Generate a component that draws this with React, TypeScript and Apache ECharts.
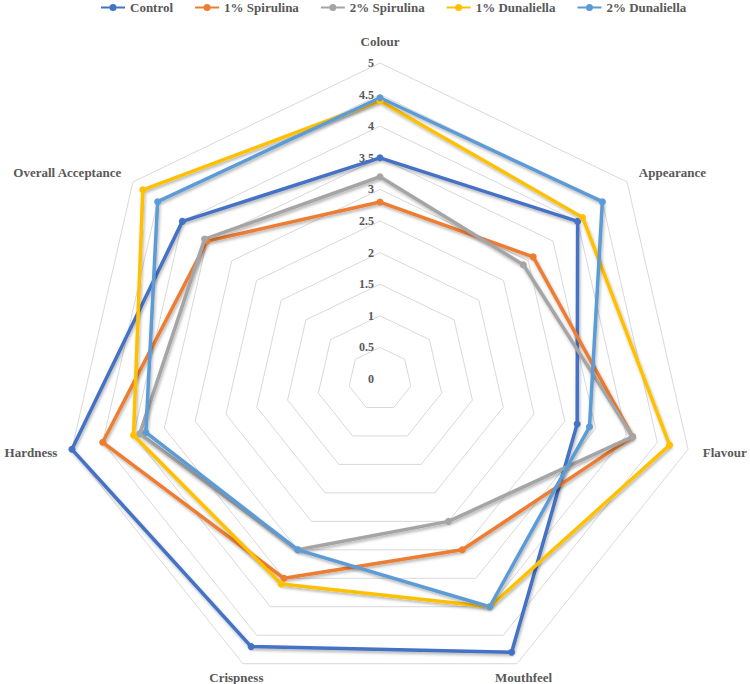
import React, { useEffect, useRef } from "react";
import * as echarts from "echarts";

const categories = ["Colour", "Appearance", "Flavour", "Mouthfeel", "Crispness", "Hardness", "Overall Acceptance"];
const seriesNames = ["Control", "1% Spirulina", "2% Spirulina", "1% Dunaliella", "2% Dunaliella"];
const control = [3.5, 4.0, 3.2, 4.8, 4.7, 5.0, 4.0];
const spirulina1 = [2.8, 3.1, 4.1, 3.0, 3.5, 4.5, 3.5];
const spirulina2 = [3.2, 2.9, 4.1, 2.5, 3.0, 3.9, 3.55];
const dunaliella1 = [4.4, 4.1, 4.7, 4.0, 3.6, 4.0, 4.8];
const dunaliella2 = [4.45, 4.5, 3.4, 4.0, 3.0, 3.8, 4.5];
const tickLabels = ["0", "0.5", "1", "1.5", "2", "2.5", "3", "3.5", "4", "4.5", "5"];
const colors = ["#4472C4", "#ED7D31", "#A5A5A5", "#FFC000", "#5B9BD5"];

const allValues = [control, spirulina1, spirulina2, dunaliella1, dunaliella2];

const CX = 380;
const CY = 379;
const R = 316;
const FONT = "Liberation Serif";
const TEXT_COLOR = "#595959";

// ECharts places indicators counter-clockwise; the reference goes clockwise.
const n = categories.length;
const order = [0, ...Array.from({ length: n - 1 }, (_, i) => n - 1 - i)];

const legendIcon = "path://M0,4H24V6H0Z M8.5,5A3.5,3.5 0 1,1 15.5,5A3.5,3.5 0 1,1 8.5,5Z";

function nameGraphics() {
  return categories.map((name, k) => {
    const th = (k * 2 * Math.PI) / n;
    const s = Math.sin(th);
    const c = Math.cos(th);
    const d = R + 15;
    const x = CX + d * s;
    const y = CY - d * c;
    let align = "center";
    let vAlign = "middle";
    if (c > 0.9) vAlign = "bottom";
    else if (c < -0.8) align = "center";
    else align = s > 0 ? "left" : "right";
    return {
      type: "text",
      x,
      y,
      style: {
        text: name,
        fill: TEXT_COLOR,
        font: `bold 13px "${FONT}", serif`,
        align,
        verticalAlign: vAlign,
      },
    };
  });
}

export default function App() {
  const ref = useRef<HTMLDivElement>(null);
  useEffect(() => {
    if (!ref.current) return;
    const chart = echarts.init(ref.current, null, { renderer: "svg" });
    const indicator = order.map((k, i) => ({
      name: categories[k],
      min: 0,
      max: 5,
      axisLabel: i === 0 ? { show: true } : { show: false },
    }));
    chart.setOption({
      animation: false,
      backgroundColor: "#ffffff",
      color: colors,
      legend: {
        top: 0,
        left: 96,
        padding: [1, 5],
        itemWidth: 24,
        itemHeight: 8,
        itemGap: 22,
        icon: legendIcon,
        textStyle: { fontFamily: FONT, fontWeight: "bold", fontSize: 13, color: TEXT_COLOR },
        data: seriesNames,
      },
      radar: {
        center: [CX, CY],
        radius: R,
        startAngle: 90,
        shape: "polygon",
        splitNumber: 10,
        indicator,
        axisName: { show: false },
        axisLine: { show: false },
        axisTick: { show: false },
        splitArea: { show: false },
        splitLine: { lineStyle: { color: "#d9d9d9", width: 1 } },
        axisLabel: {
          show: false,
          fontFamily: FONT,
          fontWeight: "bold",
          fontSize: 12,
          color: TEXT_COLOR,
          margin: 6,
          formatter: (v: number) => {
            const idx = Math.round(v * 2);
            return tickLabels[idx] ?? String(v);
          },
        },
      },
      graphic: nameGraphics(),
      series: seriesNames.map((name, si) => ({
        type: "radar",
        name,
        symbol: "circle",
        symbolSize: 7,
        lineStyle: {
          width: 3.5,
          shadowColor: "rgba(0,0,0,0.3)",
          shadowBlur: 3,
          shadowOffsetX: 1,
          shadowOffsetY: 2,
        },
        itemStyle: { color: colors[si] },
        data: [{ name, value: order.map((k) => allValues[si][k]) }],
      })),
    });
    return () => chart.dispose();
  }, []);
  return (
    <div
      ref={ref}
      style={{ position: "fixed", left: 0, top: 0, width: 750, height: 684, background: "#fff" }}
    />
  );
}
